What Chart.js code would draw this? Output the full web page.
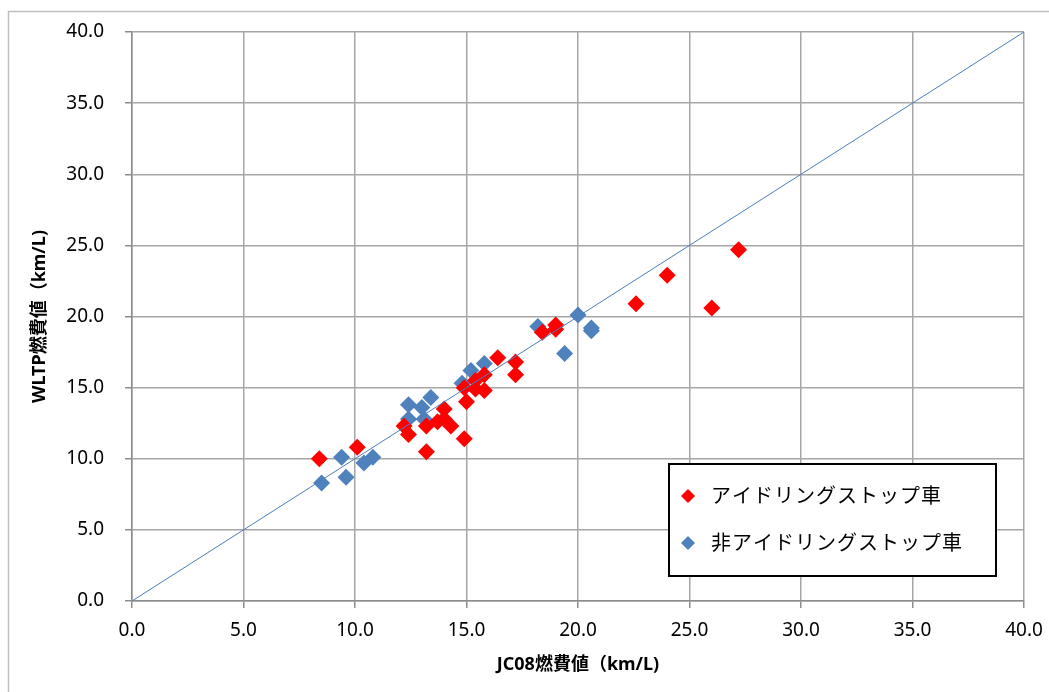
<!DOCTYPE html>
<html>
<head>
<meta charset="utf-8">
<script src="https://cdn.jsdelivr.net/npm/chart.js@4"></script>
<style>
  body { margin: 0; background: #fff; }
  canvas { display: block; }
</style>
</head>
<body>
<canvas id="fuelchart" width="1049" height="692"></canvas>
<script>
// アイドリングストップ車
var idleStopX = [8.4, 10.1, 12.2, 12.4, 13.2, 13.2, 13.7, 14.0, 14.0, 14.3, 14.9, 15.0, 14.9, 15.4,
                 15.8, 15.8, 15.4, 16.4, 17.2, 17.2, 18.4, 19.0, 19.0, 22.6, 24.0, 26.0, 27.2]
var idleStopY = [10.0, 10.8, 12.3, 11.7, 10.5, 12.3, 12.6, 13.5, 12.8, 12.3, 11.4, 14.0, 15.0, 15.5,
                 15.9, 14.8, 14.9, 17.1, 16.8, 15.9, 18.9, 19.4, 19.1, 20.9, 22.9, 20.6, 24.7]
// 非アイドリングストップ車
var nonIdleX = [8.5, 9.4, 9.6, 10.4, 10.8, 12.4, 12.4, 13.0, 13.4, 13.1, 14.8, 15.2, 15.8,
                18.2, 19.4, 20.0, 20.6, 20.6]
var nonIdleY = [8.3, 10.1, 8.7, 9.7, 10.1, 13.8, 12.8, 13.6, 14.3, 12.8, 15.3, 16.2, 16.7,
                19.3, 17.4, 20.1, 19.2, 19.0]
var diagX = [0, 40]
var diagY = [0, 40]

var seriesLabels = ["アイドリングストップ車", "非アイドリングストップ車"]
var seriesColors = ["#ff0000", "#4f81bd"]
var xTitle = "JC08燃費値（km/L)"
var yTitle = "WLTP燃費値（km/L)"

var fontFamily = "'Noto Sans', 'Noto Sans CJK JP', sans-serif"

function toPoints(xs, ys) {
	var pts = []
	for (var i = 0; i < xs.length; i++) {
		pts.push({x: xs[i], y: ys[i]})
	}
	return pts
}

// outer frame like the spreadsheet chart area
var framePlugin = {
	id: "frame",
	beforeDraw: function(chart) {
		var ctx = chart.ctx
		ctx.save()
		ctx.fillStyle = "#fff"
		ctx.fillRect(0, 0, chart.width, chart.height)
		ctx.strokeStyle = "#bfbfbf"
		ctx.lineWidth = 1.5
		ctx.beginPath()
		ctx.moveTo(8.5, chart.height)
		ctx.lineTo(8.5, 11.5)
		ctx.lineTo(chart.width, 11.5)
		ctx.stroke()
		ctx.restore()
	}
}

// boxed legend inside the plot
var boxLegend = {
	id: "boxLegend",
	afterDraw: function(chart) {
		var ctx = chart.ctx
		var bx = 669, by = 464, bw = 327, bh = 112
		ctx.save()
		ctx.fillStyle = "#fff"
		ctx.fillRect(bx, by, bw, bh)
		ctx.strokeStyle = "#000"
		ctx.lineWidth = 2
		ctx.strokeRect(bx, by, bw, bh)
		ctx.font = "20px " + fontFamily
		ctx.textBaseline = "middle"
		ctx.letterSpacing = "1px"
		for (var i = 0; i < seriesLabels.length; i++) {
			var cy = 496 + i * 47
			var cx = 688
			ctx.fillStyle = seriesColors[i]
			ctx.beginPath()
			ctx.moveTo(cx, cy - 7)
			ctx.lineTo(cx + 7, cy)
			ctx.lineTo(cx, cy + 7)
			ctx.lineTo(cx - 7, cy)
			ctx.closePath()
			ctx.fill()
			ctx.fillStyle = "#000"
			ctx.fillText(seriesLabels[i], 711, cy + 1)
		}
		ctx.restore()
	}
}

function axisOptions(title, isX) {
	return {
		type: "linear",
		min: 0,
		max: 40,
		ticks: {
			stepSize: 5,
			color: "#000",
			padding: isX ? 11 : 21,
			font: {family: fontFamily, size: 19},
			callback: function(v) { return v.toFixed(1) }
		},
		grid: {
			color: "#a6a6a6",
			lineWidth: 1.5,
			tickLength: 7,
			tickColor: "#8c8c8c"
		},
		border: {color: "#8c8c8c", width: 1.5},
		title: {
			display: true,
			text: title,
			color: "#000",
			font: {family: fontFamily, size: 18, weight: "bold"},
			padding: isX ? {top: 0, bottom: 16} : {top: 29, bottom: 0}
		},
		afterFit: function(scale) {
			if (isX) {
				scale.height = 91
				scale.paddingLeft = 0
				scale.paddingRight = 0
			} else {
				scale.width = 132
				scale.paddingTop = 0
				scale.paddingBottom = 0
			}
		}
	}
}

new Chart("fuelchart", {
	type: "scatter",
	data: {
		datasets: [{
			type: "line",
			data: toPoints(diagX, diagY),
			borderColor: "#4a7ebb",
			borderWidth: 1,
			pointRadius: 0,
			showLine: true,
			order: 0
		}, {
			label: seriesLabels[0],
			data: toPoints(idleStopX, idleStopY),
			pointStyle: "rectRot",
			pointRadius: 8.5,
			backgroundColor: seriesColors[0],
			borderColor: seriesColors[0],
			borderWidth: 0,
			order: 1
		}, {
			label: seriesLabels[1],
			data: toPoints(nonIdleX, nonIdleY),
			pointStyle: "rectRot",
			pointRadius: 8.5,
			backgroundColor: seriesColors[1],
			borderColor: seriesColors[1],
			borderWidth: 0,
			order: 2
		}]
	},
	options: {
		responsive: false,
		animation: false,
		layout: {padding: {left: 0, right: 25, top: 32, bottom: 0}},
		plugins: {
			legend: {display: false},
			tooltip: {enabled: false}
		},
		scales: {
			x: axisOptions(xTitle, true),
			y: axisOptions(yTitle, false)
		}
	},
	plugins: [framePlugin, boxLegend]
})
</script>
</body>
</html>
